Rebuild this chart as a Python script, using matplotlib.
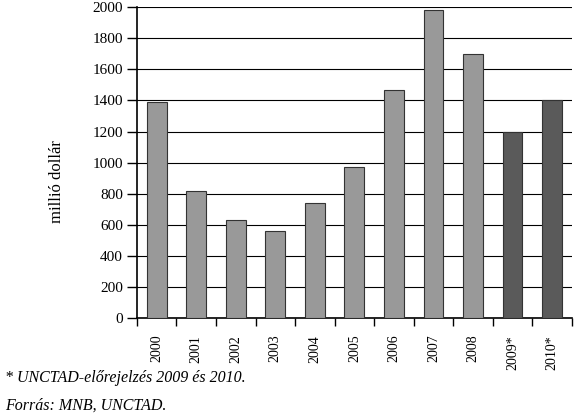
import matplotlib.pyplot as plt
import numpy as np

plt.rcParams["font.family"] = ["Liberation Serif", "DejaVu Serif"]

years = ["2000", "2001", "2002", "2003", "2004", "2005", "2006", "2007",
         "2008", "2009*", "2010*"]
values = [1390, 820, 630, 560, 740, 970, 1470, 1980, 1700, 1200, 1400]
forecast = [False] * 9 + [True, True]

fig = plt.figure(figsize=(5.8, 4.18), dpi=100)
ax = fig.add_axes([0.236, 0.239, 0.75, 0.744])

x = np.arange(len(years))
colors = ["#5a5a5a" if f else "#999999" for f in forecast]
ax.bar(x, values, width=0.5, color=colors, edgecolor="#333333", linewidth=0.8, zorder=3)

ax.set_xlim(-0.5, len(years) - 0.5)
ax.set_ylim(0, 2000)
ax.set_yticks(np.arange(0, 2001, 200))
ax.yaxis.grid(True, color="black", linewidth=0.8, zorder=0)
ax.set_axisbelow(True)

# boundary ticks between categories, year labels centred under the bars
ax.set_xticks(np.arange(-0.5, len(years), 1.0))
ax.set_xticklabels([])
ax.set_xticks(x, minor=True)
ax.set_xticklabels(years, minor=True, rotation=90, fontsize=10, va="top")
ax.tick_params(axis="x", which="minor", length=0, pad=12)
ax.tick_params(axis="x", which="major", length=6, width=1, direction="out")
ax.tick_params(axis="y", length=7, width=1, direction="out", labelsize=11, pad=3)

for side in ["top", "right"]:
    ax.spines[side].set_visible(False)
ax.spines["left"].set_linewidth(1.2)
ax.spines["bottom"].set_linewidth(1.2)

ax.set_ylabel("millió dollár", fontsize=12)
ax.yaxis.set_label_coords(-0.166, 0.44)

fig.text(0.009, 0.096, "* UNCTAD-előrejelzés 2009 és 2010.", fontsize=11.5,
         style="italic", va="center")
fig.text(0.009, 0.029, "Forrás: MNB, UNCTAD.", fontsize=11.5,
         style="italic", va="center")

fig.savefig("out.png", dpi=100)
